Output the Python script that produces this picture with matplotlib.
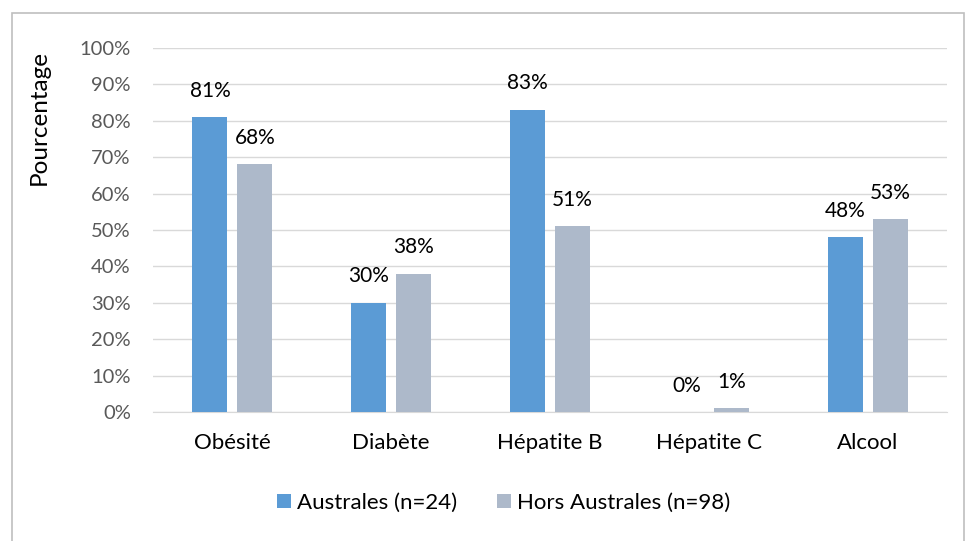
import numpy as np
import matplotlib.pyplot as plt
from matplotlib.patches import Rectangle

plt.rcParams['font.family'] = ['Lato', 'DejaVu Sans']

categories = ['Obésité', 'Diabète', 'Hépatite B', 'Hépatite C', 'Alcool']
australes = [81, 30, 83, 0, 48]
hors_australes = [68, 38, 51, 1, 53]
series_names = ['Australes (n=24)', 'Hors Australes (n=98)']

fig = plt.figure(figsize=(9.68, 5.41), dpi=100)
# outer frame of the chart
fig.patches.append(Rectangle((12 / 968, -0.01), 952 / 968, 1 - 13 / 541 + 0.01,
                             transform=fig.transFigure, fill=False,
                             edgecolor='#BFBFBF', linewidth=1.2))

ax = fig.add_axes([153 / 968, 1 - 412 / 541, 794 / 968, 364 / 541])

x = np.arange(len(categories))
w = 0.22
off = 0.1415
b1 = ax.bar(x - off, np.array(australes) / 100, w, color='#5B9BD5', label=series_names[0], zorder=3)
b2 = ax.bar(x + off, np.array(hors_australes) / 100, w, color='#ADB9CA', label=series_names[1], zorder=3)

for bars, vals in ((b1, australes), (b2, hors_australes)):
    for rect, v in zip(bars, vals):
        ax.annotate(f'{v}%', (rect.get_x() + rect.get_width() / 2, v / 100),
                    xytext=(0, 19), textcoords='offset points',
                    ha='center', va='center', fontsize=15, color='black')

ax.set_xlim(-0.5, len(categories) - 0.5)
ax.set_ylim(0, 1)
ax.set_yticks(np.arange(0, 1.01, 0.1))
ax.set_yticklabels([f'{int(round(t * 100))}%' for t in np.arange(0, 1.01, 0.1)])
ax.set_xticks(x)
ax.set_xticklabels(categories)
ax.tick_params(axis='y', length=0, labelsize=14.5, labelcolor='#595959', pad=16)
ax.tick_params(axis='x', length=0, labelsize=16, labelcolor='black', pad=15)
ax.grid(axis='y', color='#D9D9D9', linewidth=1, zorder=0)
for s in ['top', 'right', 'left']:
    ax.spines[s].set_visible(False)
ax.spines['bottom'].set_color('#D9D9D9')
ax.set_ylabel('Pourcentage', fontsize=17.5)
ax.yaxis.set_label_coords(-0.13, 0.81)

fig.legend(handles=[b1, b2], loc='center', bbox_to_anchor=(504 / 968, 1 - 503 / 541),
           ncol=2, frameon=False, fontsize=16, handlelength=0.6, handleheight=0.6,
           handletextpad=0.3, columnspacing=1.8)

plt.savefig('out.png', dpi=100)
